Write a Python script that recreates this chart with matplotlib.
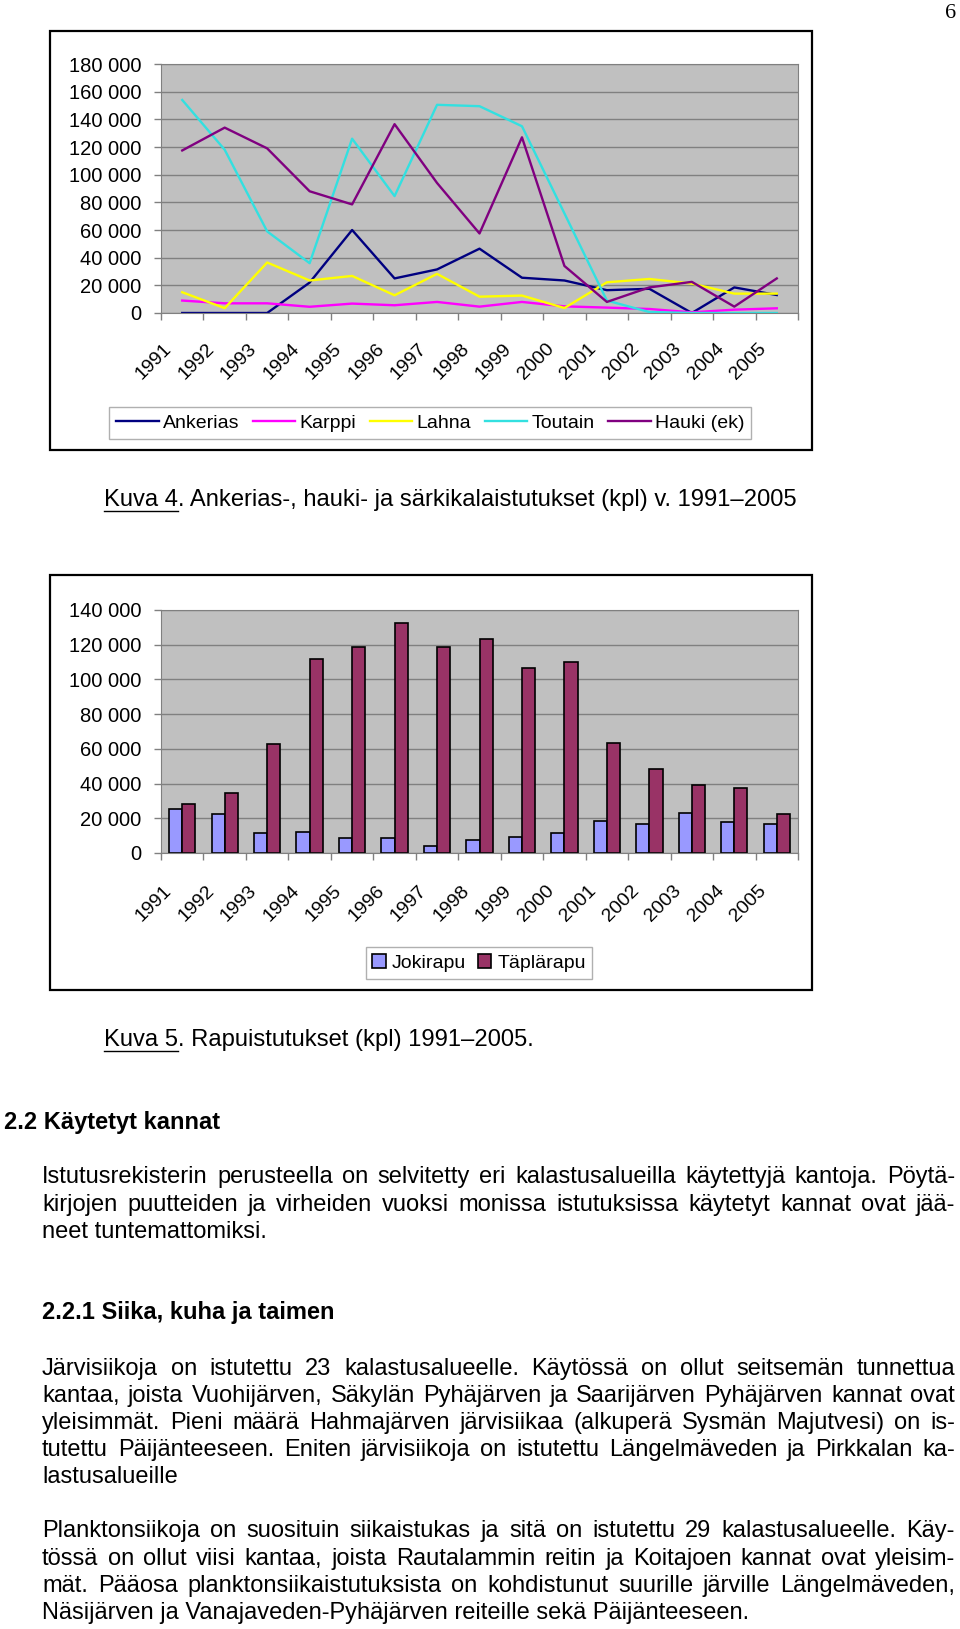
import numpy as np
import matplotlib
matplotlib.use('Agg')
import matplotlib.pyplot as plt
from matplotlib.patches import Rectangle
from matplotlib.lines import Line2D
from matplotlib import transforms

plt.rcParams['font.family'] = ['Liberation Sans', 'DejaVu Sans']

W, H = 960, 1629

years = [str(y) for y in range(1991, 2006)]

# Kuva 4 (kpl)
ankerias = [0, 0, 0, 22000, 60000, 25000, 31500, 46500, 25500, 23500, 16500, 17500, 0, 18500, 13000]
karppi = [9000, 7000, 7000, 4500, 6800, 5600, 8000, 4600, 8000, 4800, 3900, 2900, 500, 2400, 3400]
lahna = [15000, 3500, 36500, 23500, 26800, 12800, 28300, 11800, 12600, 3600, 22200, 24600, 21300, 14000, 14000]
toutain = [154000, 118000, 59000, 36000, 126000, 84500, 150500, 149500, 135000, 72000, 9000, 700, 0, 0, 0]
hauki = [117500, 134000, 119000, 88000, 78500, 136500, 94000, 57500, 127000, 34000, 8000, 18500, 22500, 4600, 25000]

# Kuva 5 (kpl)
jokirapu = [25400, 22600, 11300, 12200, 8600, 8600, 3800, 7500, 9400, 11300, 18700, 16800, 23300, 17800, 16800]
taplarapu = [28100, 34600, 62700, 111900, 118400, 132600, 118400, 123200, 106400, 110000, 63500, 48600, 39200, 37500, 22600]

fig = plt.figure(figsize=(9.6, 16.29), dpi=100)
fig.patch.set_facecolor('white')
rend = fig.canvas.get_renderer()


def fy(y):
    return 1 - y / H


def width(t):
    return t.get_window_extent(renderer=rend).width


def fit_size(text, target, **kw):
    t = fig.text(0, 0, text, fontsize=14, **kw)
    s = 14 * target / width(t)
    t.remove()
    return s


def add_ax(l, t, r, b):
    return fig.add_axes([l / W, 1 - b / H, (r - l) / W, (b - t) / H])


def frame(l, t, r, b):
    fig.add_artist(Rectangle((l / W, 1 - b / H), (r - l) / W, (b - t) / H,
                             transform=fig.transFigure, fill=False,
                             edgecolor='black', lw=1.6))


def style(ax, ymax, lab_dy):
    ax.set_facecolor('#C0C0C0')
    ax.set_xlim(-0.5, 14.5)
    ax.set_ylim(0, ymax)
    yt = np.arange(0, ymax + 1, 20000)
    ax.set_yticks(yt)
    ax.set_yticklabels([f'{v:,}'.replace(',', ' ') for v in yt], fontsize=14.5)
    ax.yaxis.grid(True, color='#808080', lw=1)
    ax.set_axisbelow(True)
    ax.set_xticks(np.arange(-0.5, 15, 1))
    ax.set_xticklabels([])
    ax.tick_params(axis='both', color='#808080', length=5, width=1)
    ax.tick_params(axis='y', pad=9)
    for s in ax.spines.values():
        s.set_color('#808080')
    trans = transforms.blended_transform_factory(ax.transData, ax.transAxes)
    off = transforms.offset_copy(trans, fig=fig, x=-13, y=-lab_dy, units='dots')
    for i, yr in enumerate(years):
        ax.text(i, 0, yr, transform=off, rotation=45, ha='right', va='center',
                rotation_mode='anchor', fontsize=14)


x = np.arange(len(years))

# ---- Kuva 4
frame(50, 31, 812, 450)
ax1 = add_ax(161, 64, 798, 313)
style(ax1, 180000, 33)
series = [(ankerias, '#000080', 'Ankerias'), (karppi, '#FF00FF', 'Karppi'),
          (lahna, '#FFFF00', 'Lahna'), (toutain, '#33E0E0', 'Toutain'),
          (hauki, '#800080', 'Hauki (ek)')]
for vals, c, lab in series:
    ax1.plot(x, vals, color=c, lw=1.7, label=lab)
h1, l1 = ax1.get_legend_handles_labels()
fig.legend(h1, l1, loc='center', bbox_to_anchor=(430 / W, fy(423)), ncol=5,
           fontsize=14, frameon=True, fancybox=False, edgecolor='#B0B0B0',
           handlelength=2.2, handletextpad=0.2, columnspacing=0.7,
           borderpad=0.35, framealpha=1)

# ---- Kuva 5
frame(50, 575, 812, 990)
ax2 = add_ax(161, 610, 798, 853)
style(ax2, 140000, 35)
ax2.bar(x - 0.155, jokirapu, width=0.31, color='#9999FF', edgecolor='black',
        lw=1.2, label='Jokirapu')
ax2.bar(x + 0.155, taplarapu, width=0.31, color='#993366', edgecolor='black',
        lw=1.2, label='Täplärapu')
h2, l2 = ax2.get_legend_handles_labels()
fig.legend(h2, l2, loc='center', bbox_to_anchor=(479 / W, fy(963)), ncol=2,
           fontsize=14, frameon=True, fancybox=False, edgecolor='#B0B0B0',
           handlelength=0.7, handleheight=0.7, handletextpad=0.3,
           columnspacing=0.6, borderpad=0.35, framealpha=1)

# ---- captions
cap4 = '. Ankerias-, hauki- ja särkikalaistutukset (kpl) v. 1991–2005'
cap_size = fit_size('Kuva 4' + cap4, 697)


def caption(x0, y, head, rest):
    fig.text(x0 / W, fy(y), head + rest, fontsize=cap_size, va='center')
    th = fig.text(x0 / W, fy(y), head, fontsize=cap_size, va='center', alpha=0)
    wd = width(th)
    fig.add_artist(Line2D([x0 / W, (x0 + wd) / W], [fy(y + 11), fy(y + 11)],
                          transform=fig.transFigure, color='black', lw=1))


caption(104, 500, 'Kuva 4', cap4)
caption(104, 1040, 'Kuva 5', '. Rapuistutukset (kpl) 1991–2005.')

fig.text(951 / W, fy(13), '6', fontsize=16, family='Liberation Serif',
         va='center', ha='center')

# ---- body text
body_size = fit_size('Näsijärven ja Vanajaveden-Pyhäjärven reiteille sekä Päijänteeseen.', 714)
head_size = fit_size('2.2.1 Siika, kuha ja taimen', 293, weight='bold')


def put_line(text, y, justify=True, x0=42, x1=955):
    if not justify:
        fig.text(x0 / W, fy(y), text, fontsize=body_size, va='center')
        return
    words = text.split(' ')
    objs = [fig.text(0, fy(y), w, fontsize=body_size, va='center') for w in words]
    widths = [width(o) for o in objs]
    gap = (x1 - x0 - sum(widths)) / (len(words) - 1)
    xp = x0
    for o, wd in zip(objs, widths):
        o.set_x(xp / W)
        xp += wd + gap


def heading(text, y, x0):
    fig.text(x0 / W, fy(y), text, fontsize=head_size, weight='bold', va='center')


heading('2.2 Käytetyt kannat', 1122, 4)
para1 = ['Istutusrekisterin perusteella on selvitetty eri kalastusalueilla käytettyjä kantoja. Pöytä-',
         'kirjojen puutteiden ja virheiden vuoksi monissa istutuksissa käytetyt kannat ovat jää-',
         'neet tuntemattomiksi.']
for i, (ln, y) in enumerate(zip(para1, [1177, 1205, 1232])):
    put_line(ln, y, justify=i < len(para1) - 1)

heading('2.2.1 Siika, kuha ja taimen', 1313, 42)
para2 = ['Järvisiikoja on istutettu 23 kalastusalueelle. Käytössä on ollut seitsemän tunnettua',
         'kantaa, joista Vuohijärven, Säkylän Pyhäjärven ja Saarijärven Pyhäjärven kannat ovat',
         'yleisimmät. Pieni määrä Hahmajärven järvisiikaa (alkuperä Sysmän Majutvesi) on is-',
         'tutettu Päijänteeseen. Eniten järvisiikoja on istutettu Längelmäveden ja Pirkkalan ka-',
         'lastusalueille']
for i, (ln, y) in enumerate(zip(para2, [1369, 1396, 1423, 1450, 1477])):
    put_line(ln, y, justify=i < len(para2) - 1)

para3 = ['Planktonsiikoja on suosituin siikaistukas ja sitä on istutettu 29 kalastusalueelle. Käy-',
         'tössä on ollut viisi kantaa, joista Rautalammin reitin ja Koitajoen kannat ovat yleisim-',
         'mät. Pääosa planktonsiikaistutuksista on kohdistunut suurille järville Längelmäveden,',
         'Näsijärven ja Vanajaveden-Pyhäjärven reiteille sekä Päijänteeseen.']
for i, (ln, y) in enumerate(zip(para3, [1531, 1559, 1586, 1613])):
    put_line(ln, y, justify=i < len(para3) - 1)

plt.savefig('out.png', dpi=100)
